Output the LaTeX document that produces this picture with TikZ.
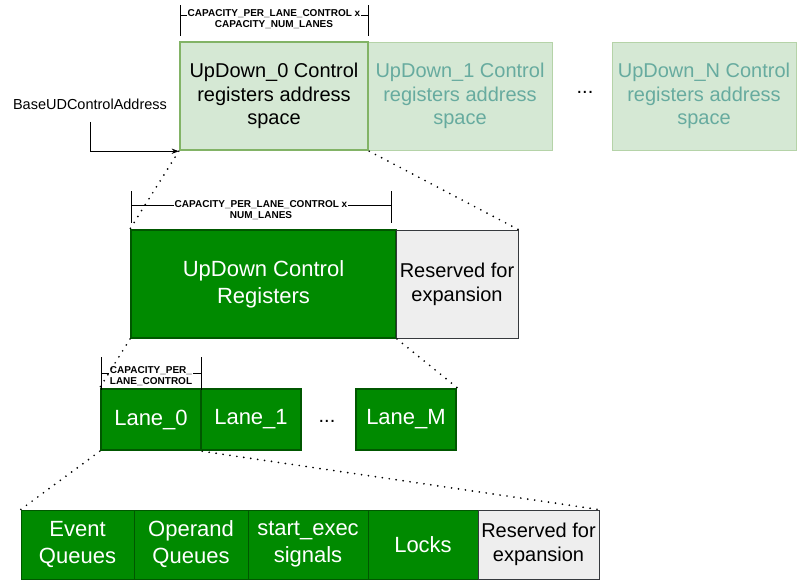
\documentclass[tikz,border=0pt]{standalone}
\usepackage{fontspec}
\setmainfont{Liberation Sans}
\usetikzlibrary{positioning,calc,arrows.meta}
\definecolor{udfill}{HTML}{D5E8D4}
\definecolor{udline}{HTML}{82B366}
\definecolor{udlight}{HTML}{B5D3A8}
\definecolor{udtext}{HTML}{67AB9F}
\definecolor{regfill}{HTML}{008A00}
\definecolor{regline}{HTML}{005700}
\definecolor{resfill}{HTML}{EEEEEE}
\definecolor{resline}{HTML}{36393D}
\tikzstyle{udspace} = [rectangle, draw=udline, fill=udfill, line width=2.5pt, align=center, font=\fontsize{20}{23.5}\selectfont, inner sep=0pt]
\tikzstyle{udfaint} = [udspace, draw=udlight, line width=1pt, text=udtext]
\tikzstyle{regbox} = [rectangle, draw=regline, fill=regfill, line width=2pt, text=white, align=center, font=\fontsize{22}{27}\selectfont, inner sep=0pt]
\tikzstyle{lanebox} = [regbox, line width=2.5pt]
\tikzstyle{fieldbox} = [regbox, line width=0.8pt]
\tikzstyle{resbox} = [rectangle, draw=resline, fill=resfill, line width=0.8pt, align=center, font=\fontsize{20}{24}\selectfont, inner sep=0pt]
\tikzstyle{dimlabel} = [fill=white, inner sep=1pt, align=center, font=\bfseries\fontsize{10}{11.5}\selectfont]
\tikzstyle{zoomline} = [line width=1.9pt, dash pattern=on 0pt off 7pt, line cap=round]
\tikzstyle{arrow} = [line width=0.8pt, -{Stealth[length=2.5mm]}]

\begin{document}
\begin{tikzpicture}[x=1pt,y=-1pt]
\useasboundingbox (0,0) rectangle (799,581);
% address spaces
\draw (460,96) node (ud1) [udfaint, minimum width=184pt, minimum height=108pt] {UpDown\_1 Control\\registers address\\space};
\draw (704,96) node (udN) [udfaint, minimum width=184pt, minimum height=108pt] {UpDown\_N Control\\registers address\\space};
\draw (274,96) node (ud0) [udspace, minimum width=188pt, minimum height=108pt] {UpDown\_0 Control\\registers address\\space};
\node (d1) at (585,92) {\fontsize{20}{24}\selectfont ...};
\node (base) at (90,104) {\fontsize{14.5}{17}\selectfont BaseUDControlAddress};
\draw[arrow] ([yshift=-9pt]base.south) |- (ud0.south west);
% control registers
\draw (263.5,284) node (regs) [regbox, minimum width=265pt, minimum height=108pt] {UpDown Control\\Registers};
\draw (457,284) node (res) [resbox, minimum width=122pt, minimum height=108pt] {Reserved for\\expansion};
% lanes
\draw (151,419.5) node (lane0) [lanebox, minimum width=100pt, minimum height=61pt] {Lane\_0};
\draw (251,419.5) node (lane1) [lanebox, minimum width=100pt, minimum height=61pt] {Lane\_1};
\draw (406,419.5) node (laneM) [lanebox, minimum width=100pt, minimum height=61pt] {Lane\_M};
\node (d2) at (327,421) {\fontsize{20}{24}\selectfont ...};
% lane fields
\draw (77.5,544.5) node (evq) [fieldbox, minimum width=113pt, minimum height=69pt] {Event\\Queues};
\draw (191,544.5) node (opq) [fieldbox, minimum width=114pt, minimum height=69pt] {Operand\\Queues};
\draw (308,544.5) node (sig) [fieldbox, minimum width=120pt, minimum height=69pt] {start\_exec\\signals};
\draw (423,544.5) node (lck) [fieldbox, minimum width=110pt, minimum height=69pt] {Locks};
\draw (538.5,544.5) node (res2) [resbox, minimum width=121pt, minimum height=69pt] {Reserved for\\expansion};
% dimensions
\draw[line width=0.6pt] (180,5) -- (180,36) (368,5) -- (368,36) (180,15) -- (368,15);
\node (dim1) [dimlabel] at (274,19) {CAPACITY\_PER\_LANE\_CONTROL x\\CAPACITY\_NUM\_LANES};
\draw[line width=0.6pt] (131,191) -- (131,223) (391,191) -- (391,223) (131,205) -- (391,205);
\node (dim2) [dimlabel] at (261,210) {CAPACITY\_PER\_LANE\_CONTROL x\\NUM\_LANES};
\draw[line width=0.6pt] (101,357) -- (101,390) (201,357) -- (201,390) (101,373) -- (201,373);
\node (dim3) [dimlabel] at (151,376) {CAPACITY\_PER\_\\LANE\_CONTROL};
% zoom lines
\draw[zoomline] (ud0.south west) -- (regs.north west);
\draw[zoomline] (ud0.south east) -- (res.north east);
\draw[zoomline] (regs.south west) -- (lane0.north west);
\draw[zoomline] (regs.south east) -- (laneM.north east);
\draw[zoomline] (lane0.south west) -- (evq.north west);
\draw[zoomline] (lane0.south east) -- (res2.north east);
\end{tikzpicture}
\end{document}
